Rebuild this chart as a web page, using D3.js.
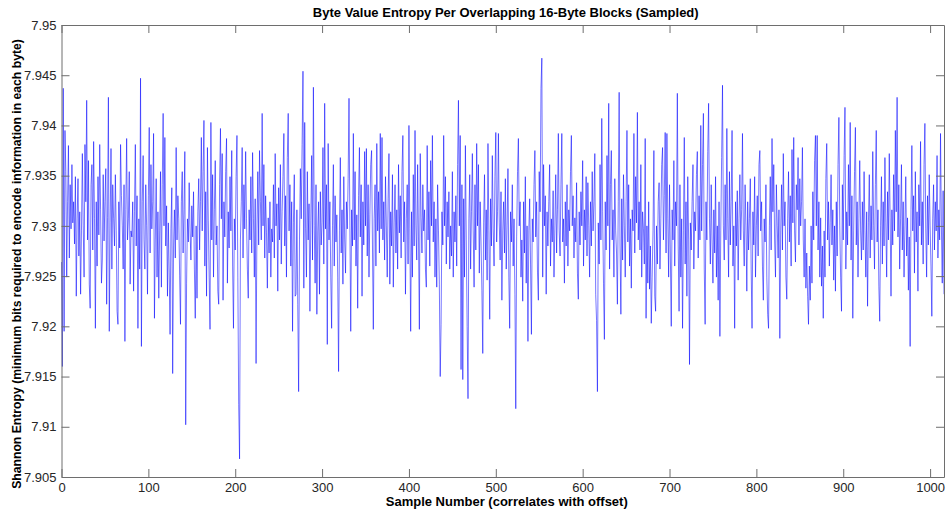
<!DOCTYPE html>
<html>
<head>
<meta charset="utf-8">
<script src="https://cdn.jsdelivr.net/npm/d3@7"></script>
<style>
  body { margin: 0; background: #ffffff; }
  svg { display: block; font-family: "Liberation Sans", Arial, Helvetica, sans-serif; }
</style>
</head>
<body>
<svg id="chart" width="946" height="512"></svg>
<script>
// Shannon entropy (bits per byte) of each sampled, overlapping 16-byte block
const entropy = [
7.9264,7.9160,7.9437,7.9195,7.9395,7.9354,7.9249,7.9324,7.9380,7.9268,7.9341,7.9297,7.9361,7.9303,7.9324,7.9282,7.9349,7.9230,7.9307,7.9347,
7.9270,7.9314,7.9232,7.9295,7.9372,7.9300,7.9249,7.9381,7.9324,7.9425,7.9286,7.9365,7.9242,7.9218,7.9341,7.9361,7.9276,7.9384,7.9307,7.9198,
7.9324,7.9260,7.9349,7.9291,7.9381,7.9316,7.9243,7.9266,7.9351,7.9285,7.9324,7.9357,7.9222,7.9308,7.9428,7.9195,7.9303,7.9377,7.9257,7.9341,
7.9307,7.9280,7.9351,7.9295,7.9215,7.9202,7.9324,7.9278,7.9381,7.9330,7.9300,7.9257,7.9341,7.9185,7.9316,7.9387,7.9286,7.9307,7.9354,7.9242,
7.9295,7.9289,7.9324,7.9235,7.9314,7.9381,7.9280,7.9330,7.9198,7.9307,7.9257,7.9447,7.9180,7.9324,7.9370,7.9286,7.9257,7.9341,7.9300,7.9232,
7.9330,7.9398,7.9273,7.9361,7.9297,7.9324,7.9392,7.9208,7.9286,7.9347,7.9249,7.9314,7.9228,7.9295,7.9354,7.9239,7.9341,7.9412,7.9300,7.9388,
7.9280,7.9320,7.9230,7.9303,7.9254,7.9192,7.9297,7.9338,7.9153,7.9280,7.9316,7.9268,7.9378,7.9286,7.9330,7.9307,7.9251,7.9202,7.9324,7.9354,
7.9273,7.9316,7.9374,7.9102,7.9243,7.9307,7.9284,7.9343,7.9295,7.9266,7.9320,7.9289,7.9334,7.9257,7.9208,7.9300,7.9228,7.9314,7.9347,7.9276,
7.9324,7.9388,7.9295,7.9354,7.9405,7.9260,7.9334,7.9230,7.9378,7.9305,7.9249,7.9197,7.9403,7.9286,7.9351,7.9249,7.9316,7.9365,7.9281,7.9300,
7.9235,7.9222,7.9341,7.9397,7.9307,7.9372,7.9226,7.9324,7.9289,7.9354,7.9387,7.9243,7.9314,7.9278,7.9349,7.9295,7.9375,7.9260,7.9198,7.9307,
7.9276,7.9349,7.9390,7.9249,7.9122,7.9068,7.9286,7.9324,7.9378,7.9268,7.9341,7.9297,7.9374,7.9307,7.9257,7.9228,7.9316,7.9286,7.9349,7.9273,
7.9373,7.9307,7.9249,7.9327,7.9163,7.9297,7.9354,7.9281,7.9375,7.9324,7.9286,7.9412,7.9300,7.9361,7.9268,7.9330,7.9293,7.9238,7.9308,7.9273,
7.9324,7.9249,7.9297,7.9284,7.9341,7.9268,7.9372,7.9300,7.9322,7.9235,7.9338,7.9286,7.9361,7.9262,7.9314,7.9349,7.9392,7.9280,7.9330,7.9249,
7.9368,7.9412,7.9295,7.9341,7.9260,7.9324,7.9195,7.9303,7.9351,7.9230,7.9232,7.9316,7.9222,7.9135,7.9286,7.9357,7.9307,7.9381,7.9454,7.9238,
7.9403,7.9297,7.9249,7.9354,7.9286,7.9322,7.9215,7.9305,7.9370,7.9266,7.9438,7.9300,7.9243,7.9341,7.9212,7.9295,7.9324,7.9232,7.9334,7.9281,
7.9303,7.9378,7.9262,7.9422,7.9297,7.9341,7.9182,7.9382,7.9286,7.9324,7.9249,7.9198,7.9300,7.9361,7.9260,7.9330,7.9284,7.9311,7.9249,7.9155,
7.9295,7.9368,7.9273,7.9316,7.9242,7.9349,7.9286,7.9253,7.9324,7.9297,7.9347,7.9427,7.9300,7.9195,7.9316,7.9280,7.9392,7.9286,7.9354,7.9260,
7.9311,7.9218,7.9330,7.9378,7.9289,7.9341,7.9230,7.9324,7.9281,7.9374,7.9300,7.9377,7.9270,7.9341,7.9249,7.9311,7.9361,7.9375,7.9281,7.9197,
7.9307,7.9341,7.9260,7.9382,7.9295,7.9334,7.9273,7.9392,7.9297,7.9388,7.9286,7.9324,7.9266,7.9349,7.9300,7.9249,7.9327,7.9372,7.9242,7.9314,
7.9280,7.9351,7.9239,7.9303,7.9341,7.9273,7.9316,7.9257,7.9361,7.9293,7.9330,7.9268,7.9354,7.9390,7.9284,7.9324,7.9232,7.9307,7.9341,7.9262,
7.9400,7.9297,7.9195,7.9314,7.9249,7.9351,7.9280,7.9395,7.9300,7.9266,7.9361,7.9289,7.9197,7.9372,7.9308,7.9273,7.9341,7.9295,7.9316,7.9257,
7.9239,7.9380,7.9286,7.9334,7.9260,7.9365,7.9300,7.9390,7.9284,7.9324,7.9249,7.9307,7.9239,7.9341,7.9295,7.9242,7.9150,7.9202,7.9314,7.9281,
7.9390,7.9300,7.9349,7.9262,7.9324,7.9289,7.9334,7.9257,7.9300,7.9270,7.9354,7.9249,7.9314,7.9284,7.9330,7.9260,7.9361,7.9425,7.9300,7.9390,
7.9157,7.9341,7.9147,7.9327,7.9249,7.9380,7.9286,7.9200,7.9128,7.9307,7.9351,7.9257,7.9314,7.9372,7.9295,7.9239,7.9341,7.9276,7.9382,7.9300,
7.9361,7.9253,7.9324,7.9284,7.9236,7.9173,7.9303,7.9351,7.9266,7.9316,7.9246,7.9382,7.9295,7.9207,7.9327,7.9280,7.9370,7.9297,7.9260,7.9349,
7.9393,7.9284,7.9314,7.9392,7.9303,7.9266,7.9334,7.9226,7.9295,7.9324,7.9273,7.9347,7.9257,7.9300,7.9357,7.9249,7.9198,7.9314,7.9284,7.9341,
7.9260,7.9307,7.9232,7.9118,7.9289,7.9354,7.9387,7.9300,7.9324,7.9249,7.9286,7.9225,7.9324,7.9273,7.9349,7.9243,7.9300,7.9185,7.9295,7.9327,
7.9262,7.9192,7.9307,7.9284,7.9341,7.9375,7.9289,7.9324,7.9254,7.9226,7.9354,7.9314,7.9437,7.9467,7.9249,7.9361,7.9300,7.9330,7.9232,7.9314,
7.9280,7.9324,7.9361,7.9260,7.9307,7.9284,7.9335,7.9249,7.9300,7.9351,7.9273,7.9316,7.9392,7.9295,7.9270,7.9341,7.9392,7.9284,7.9307,7.9243,
7.9324,7.9280,7.9341,7.9260,7.9316,7.9295,7.9354,7.9390,7.9300,7.9330,7.9268,7.9308,7.9284,7.9343,7.9253,7.9227,7.9314,7.9281,7.9334,7.9300,
7.9365,7.9260,7.9316,7.9286,7.9349,7.9270,7.9343,7.9300,7.9249,7.9324,7.9280,7.9354,7.9295,7.9324,7.9372,7.9232,7.9206,7.9135,7.9303,7.9262,
7.9361,7.9286,7.9407,7.9314,7.9243,7.9187,7.9324,7.9276,7.9370,7.9300,7.9422,7.9257,7.9341,7.9375,7.9286,7.9316,7.9249,7.9347,7.9295,7.9273,
7.9222,7.9324,7.9433,7.9281,7.9212,7.9327,7.9266,7.9351,7.9300,7.9249,7.9324,7.9395,7.9284,7.9341,7.9260,7.9307,7.9238,7.9316,7.9295,7.9392,
7.9273,7.9349,7.9303,7.9413,7.9286,7.9324,7.9276,7.9361,7.9249,7.9314,7.9297,7.9262,7.9387,7.9208,7.9300,7.9243,7.9324,7.9237,7.9280,7.9203,
7.9249,7.9295,7.9375,7.9230,7.9215,7.9300,7.9262,7.9324,7.9343,7.9257,7.9307,7.9361,7.9378,7.9286,7.9330,7.9393,7.9273,7.9392,7.9307,7.9249,
7.9341,7.9268,7.9200,7.9316,7.9286,7.9365,7.9260,7.9324,7.9300,7.9432,7.9281,7.9215,7.9341,7.9249,7.9307,7.9198,7.9295,7.9388,7.9262,7.9324,
7.9230,7.9349,7.9286,7.9162,7.9303,7.9276,7.9324,7.9361,7.9257,7.9314,7.9295,7.9351,7.9374,7.9268,7.9330,7.9286,7.9400,7.9295,7.9361,7.9412,
7.9257,7.9202,7.9324,7.9286,7.9374,7.9422,7.9307,7.9262,7.9341,7.9284,7.9243,7.9316,7.9273,7.9349,7.9249,7.9300,7.9226,7.9324,7.9190,7.9295,
7.9368,7.9440,7.9300,7.9266,7.9341,7.9286,7.9397,7.9307,7.9249,7.9354,7.9281,7.9324,7.9395,7.9260,7.9300,7.9198,7.9324,7.9280,7.9335,7.9246,
7.9307,7.9351,7.9286,7.9316,7.9392,7.9295,7.9260,7.9341,7.9300,7.9235,7.9324,7.9276,7.9307,7.9347,7.9257,7.9198,7.9314,7.9281,7.9349,7.9249,
7.9300,7.9330,7.9270,7.9361,7.9375,7.9295,7.9324,7.9260,7.9226,7.9307,7.9284,7.9341,7.9249,7.9212,7.9198,7.9300,7.9349,7.9276,7.9387,7.9314,
7.9361,7.9286,7.9249,7.9341,7.9300,7.9268,7.9316,7.9188,7.9295,7.9341,7.9276,7.9372,7.9300,7.9324,7.9249,7.9227,7.9307,7.9354,7.9284,7.9330,
7.9260,7.9376,7.9303,7.9388,7.9295,7.9264,7.9341,7.9316,7.9368,7.9281,7.9347,7.9300,7.9324,7.9378,7.9286,7.9249,7.9307,7.9238,7.9273,7.9230,
7.9202,7.9260,7.9226,7.9300,7.9243,7.9334,7.9286,7.9365,7.9390,7.9300,7.9390,7.9276,7.9324,7.9249,7.9308,7.9240,7.9280,7.9208,7.9295,7.9249,
7.9347,7.9382,7.9286,7.9324,7.9260,7.9303,7.9351,7.9281,7.9316,7.9246,7.9300,7.9235,7.9324,7.9270,7.9361,7.9408,7.9300,7.9249,7.9215,7.9341,
7.9286,7.9370,7.9418,7.9257,7.9314,7.9281,7.9361,7.9300,7.9403,7.9266,7.9330,7.9208,7.9295,7.9354,7.9398,7.9281,7.9324,7.9249,7.9307,7.9365,
7.9295,7.9266,7.9324,7.9276,7.9354,7.9295,7.9249,7.9314,7.9220,7.9303,7.9351,7.9268,7.9320,7.9286,7.9374,7.9300,7.9257,7.9341,7.9395,7.9284,
7.9316,7.9240,7.9205,7.9300,7.9349,7.9262,7.9324,7.9280,7.9368,7.9303,7.9249,7.9334,7.9286,7.9372,7.9308,7.9230,7.9316,7.9281,7.9351,7.9295,
7.9395,7.9314,7.9428,7.9289,7.9341,7.9257,7.9307,7.9361,7.9276,7.9324,7.9249,7.9300,7.9349,7.9270,7.9308,7.9236,7.9289,7.9180,7.9316,7.9380,
7.9295,7.9330,7.9253,7.9354,7.9284,7.9314,7.9235,7.9341,7.9300,7.9384,7.9281,7.9324,7.9262,7.9361,7.9402,7.9297,7.9249,7.9330,7.9281,7.9351,
7.9300,7.9260,7.9210,7.9307,7.9341,7.9276,7.9324,7.9295,7.9370,7.9268,7.9316,7.9286,7.9392,7.9300,7.9243,7.9335,7.9232
];

const xTicks = [0, 100, 200, 300, 400, 500, 600, 700, 800, 900, 1000];
const yTicks = [7.905, 7.91, 7.915, 7.92, 7.925, 7.93, 7.935, 7.94, 7.945, 7.95];
const yTickLabels = ["7.905", "7.91", "7.915", "7.92", "7.925", "7.93", "7.935", "7.94", "7.945", "7.95"];
const yDomain = [7.905, 7.95];

const titleText = "Byte Value Entropy Per Overlapping 16-Byte Blocks (Sampled)";
const xLabelText = "Sample Number (correlates with offset)";
const yLabelText = "Shannon Entropy (minimum bits required to encode information in each byte)";

const svg = d3.select("#chart");
const plotLeft = 61.5, plotRight = 944, plotTop = 25, plotBottom = 477;

const x = d3.scaleLinear().domain([0, entropy.length - 1]).range([plotLeft, plotRight]);
const y = d3.scaleLinear().domain(yDomain).range([plotBottom, plotTop]);

const axisColor = "#6e6e6e";
const labelColor = "#262626";
const tickLen = 8;

// entropy trace (drawn first so the frame sits on top)
const line = d3.line()
  .x((d, i) => x(i))
  .y(d => y(d));

svg.append("path")
  .datum(entropy)
  .attr("d", line)
  .attr("fill", "none")
  .attr("stroke", "#0000ff")
  .attr("stroke-width", 0.6)
  .attr("stroke-linejoin", "miter")
  .attr("stroke-opacity", 0.9);

function styleAxis(g) {
  g.selectAll(".domain").attr("stroke", axisColor).attr("stroke-width", 1);
  g.selectAll(".tick line").attr("stroke", axisColor).attr("stroke-width", 1);
  g.selectAll(".tick text")
    .attr("fill", labelColor)
    .style("font-size", "13px")
    .style("font-family", '"Liberation Sans", Arial, sans-serif');
}

// bottom axis with labels, inward ticks
svg.append("g")
  .attr("transform", `translate(0,${plotBottom})`)
  .call(d3.axisBottom(x).tickValues(xTicks).tickFormat(d3.format("d"))
    .tickSizeInner(-tickLen).tickSizeOuter(0).tickPadding(6))
  .call(styleAxis);

// top frame with ticks only
svg.append("g")
  .attr("transform", `translate(0,${plotTop})`)
  .call(d3.axisTop(x).tickValues(xTicks).tickFormat("")
    .tickSizeInner(-tickLen).tickSizeOuter(0))
  .call(styleAxis);

// left axis with labels
svg.append("g")
  .attr("transform", `translate(${plotLeft},0)`)
  .call(d3.axisLeft(y).tickValues(yTicks).tickFormat((d, i) => yTickLabels[i])
    .tickSizeInner(-tickLen).tickSizeOuter(0).tickPadding(5))
  .call(styleAxis);

// right frame with ticks only
svg.append("g")
  .attr("transform", `translate(${plotRight},0)`)
  .call(d3.axisRight(y).tickValues(yTicks).tickFormat("")
    .tickSizeInner(-tickLen).tickSizeOuter(0))
  .call(styleAxis);

// titles
svg.append("text")
  .attr("x", (plotLeft + plotRight) / 2 + 3)
  .attr("y", 17)
  .attr("text-anchor", "middle")
  .attr("fill", "#000")
  .style("font-size", "13px")
  .style("font-weight", "bold")
  .text(titleText);

svg.append("text")
  .attr("x", (plotLeft + plotRight) / 2 + 4)
  .attr("y", 506)
  .attr("text-anchor", "middle")
  .attr("fill", "#000")
  .style("font-size", "13px")
  .style("font-weight", "bold")
  .text(xLabelText);

svg.append("text")
  .attr("transform", `translate(21,${(plotTop + plotBottom) / 2 + 13}) rotate(-90)`)
  .attr("text-anchor", "middle")
  .attr("fill", "#000")
  .style("font-size", "12.2px")
  .style("font-weight", "bold")
  .text(yLabelText);
</script>
</body>
</html>
